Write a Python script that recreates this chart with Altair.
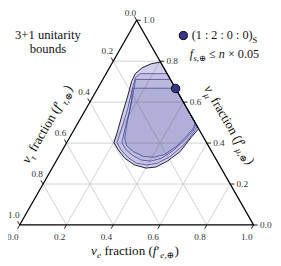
import altair as alt
import pandas as pd

# ---------------- data ----------------
TICKS = [0.0, 0.2, 0.4, 0.6, 0.8, 1.0]
GRID = [0.2, 0.4, 0.6, 0.8]

# contour regions, (nu_e fraction, nu_mu fraction), outermost first
C0_fe = [0.204, 0.168, 0.140, 0.125, 0.128, 0.147, 0.166, 0.188, 0.202, 0.236,
         0.286, 0.345, 0.401, 0.441, 0.476, 0.507, 0.519, 0.530]
C0_fmu = [0.796, 0.787, 0.768, 0.739, 0.701, 0.630, 0.549, 0.464, 0.402, 0.369,
          0.326, 0.293, 0.278, 0.283, 0.312, 0.359, 0.426, 0.470]
C1_fe = [0.261, 0.146, 0.135, 0.150, 0.178, 0.200, 0.215, 0.248, 0.296, 0.348,
         0.399, 0.439, 0.477, 0.505, 0.516, 0.520]
C1_fmu = [0.739, 0.739, 0.720, 0.663, 0.568, 0.473, 0.402, 0.369, 0.331, 0.302,
          0.293, 0.302, 0.335, 0.388, 0.440, 0.480]
C2_fe = [0.289, 0.140, 0.160, 0.191, 0.217, 0.236, 0.269, 0.312, 0.362, 0.405,
         0.444, 0.475, 0.499, 0.511, 0.510]
C2_fmu = [0.711, 0.711, 0.654, 0.559, 0.464, 0.402, 0.369, 0.340, 0.317, 0.312,
          0.326, 0.364, 0.416, 0.459, 0.490]
C3_fe = [0.332, 0.148, 0.175, 0.206, 0.236, 0.263, 0.306, 0.360, 0.409, 0.448,
         0.478, 0.497, 0.507, 0.500]
C3_fmu = [0.668, 0.668, 0.606, 0.511, 0.426, 0.388, 0.359, 0.335, 0.331, 0.345,
          0.383, 0.435, 0.473, 0.500]

MARK_fe = [1 / 3]
MARK_fmu = [2 / 3]

TITLE_TEXT = ["3+1 unitarity", "bounds"]

FONT = "Liberation Serif, DejaVu Serif, serif"
W, H = 240.5, 210.5

XE = alt.X("X:Q", scale=alt.Scale(domain=[0, 1], nice=False, zero=False), axis=None)
YE = alt.Y("Y:Q", scale=alt.Scale(domain=[0, 1], nice=False, zero=False), axis=None)
XE2 = alt.X2("X2:Q")
YE2 = alt.Y2("Y2:Q")


def cart(fe, fmu):
    return fe + fmu / 2.0, fmu


layers = []

# grid
rows = []
for v in GRID:
    for (a, b) in [((v, 0), (v, 1 - v)), ((0, v), (1 - v, v)), ((0, 1 - v), (1 - v, 0))]:
        x1, y1 = cart(*a)
        x2, y2 = cart(*b)
        rows.append(dict(X=x1, Y=y1, X2=x2, Y2=y2))
layers.append(alt.Chart(pd.DataFrame(rows)).mark_rule(color="#c4c4c4", strokeWidth=0.8)
              .encode(x=XE, y=YE, x2=XE2, y2=YE2))


def poly(fe, fmu, fop, stroke, sw):
    fe2 = list(fe) + [fe[0]]
    fm2 = list(fmu) + [fmu[0]]
    df = pd.DataFrame({"fe": fe2, "fmu": fm2, "i": list(range(len(fe2)))})
    return (alt.Chart(df)
            .transform_calculate(X="datum.fe + datum.fmu/2", Y="datum.fmu")
            .mark_line(fill="#4e4aa6", fillOpacity=fop, stroke=stroke, strokeWidth=sw,
                       strokeJoin="round")
            .encode(x=XE, y=YE, order="i:Q"))


layers.append(poly(C0_fe, C0_fmu, 0.26, "#1c1b33", 1.0))
layers.append(poly(C1_fe, C1_fmu, 0.085, "#4a4699", 0.8))
layers.append(poly(C2_fe, C2_fmu, 0.085, "#4a4699", 0.8))
layers.append(poly(C3_fe, C3_fmu, 0.09, "#4a4699", 0.8))

# triangle frame
tri = pd.DataFrame({"fe": [0, 1, 0, 0], "fmu": [0, 0, 1, 0], "i": [0, 1, 2, 3]})
layers.append(alt.Chart(tri).transform_calculate(X="datum.fe + datum.fmu/2", Y="datum.fmu")
              .mark_line(color="black", strokeWidth=1.3, strokeJoin="miter")
              .encode(x=XE, y=YE, order="i:Q"))

# ticks and labels
T = 0.018
rows, lb, ll, lr = [], [], [], []
for v in TICKS:
    # bottom (nu_e)
    x, y = cart(v, 0)
    rows.append(dict(X=x, Y=y, X2=x - T / 2, Y2=-T))
    lb.append(dict(X=x - 0.058 / 2, Y=-0.058, t=f"{v:.1f}"))
    # right (nu_mu)
    x, y = cart(1 - v, v)
    rows.append(dict(X=x, Y=y, X2=x + T, Y2=y))
    lr.append(dict(X=x + 0.0275, Y=y, t=f"{v:.1f}"))
    # left (nu_tau)
    x, y = cart(0, 1 - v)
    rows.append(dict(X=x, Y=y, X2=x - T / 2, Y2=y + T))
    off = 0.05 if v > 0 else 0.037
    ll.append(dict(X=x - off / 2 - (0.008 if v == 0 else 0), Y=y + off, t=f"{v:.1f}"))
layers.append(alt.Chart(pd.DataFrame(rows)).mark_rule(color="black", strokeWidth=0.9)
              .encode(x=XE, y=YE, x2=XE2, y2=YE2))
for d, al in [(lb, "center"), (ll, "center"), (lr, "left")]:
    layers.append(alt.Chart(pd.DataFrame(d)).mark_text(
        align=al, baseline="middle", font=FONT, fontSize=9.5, color="#333333")
        .encode(x=XE, y=YE, text="t:N"))

# marker
mk = pd.DataFrame({"fe": MARK_fe, "fmu": MARK_fmu})
layers.append(alt.Chart(mk).transform_calculate(X="datum.fe + datum.fmu/2", Y="datum.fmu")
              .mark_point(filled=True, size=75, fill="#38358a", stroke="black",
                          strokeWidth=1.0, opacity=1)
              .encode(x=XE, y=YE))

ONE = alt.Data(values=[{"a": 1}])

# widths (em) for positioning of rich-text segments
CW = {" ": 0.25, "(": 0.333, ")": 0.333, ",": 0.25, "a": 0.444, "c": 0.444, "e": 0.444,
      "f": 0.3, "i": 0.278, "n": 0.5, "o": 0.5, "r": 0.35, "t": 0.278, "S": 0.556,
      "s": 0.389, "0": 0.5, "1": 0.5, "2": 0.5, ".": 0.25, ":": 0.278, "≤": 0.549,
      "×": 0.564, "ν": 0.46, "τ": 0.44, "μ": 0.5, "⊕": 0.84, "′": 0.28}


def tw(t, fs):
    return sum(CW.get(c, 0.5) for c in t) * fs


def rich(segs, px, py, size, angle=0, anchor="center", color="#111111"):
    out = []
    ws = []
    for t, k in segs:
        fs = size * 0.7 if k.startswith("s") else size
        ws.append(tw(t, fs))
    off = -sum(ws) / 2 if anchor == "center" else 0
    for (t, k), w in zip(segs, ws):
        fs = size * 0.7 if k.startswith("s") else size
        dy = size * 0.28 if k.startswith("s") else 0
        lead = len(t) - len(t.lstrip(" "))
        txt = t.strip(" ")
        kw = dict(text=txt, align="left", baseline="alphabetic", dx=off + tw(" " * lead, fs),
                  dy=dy, fontSize=fs, font=FONT, color=color,
                  fontStyle="italic" if k in ("i", "si") else "normal")
        if angle:
            kw["angle"] = angle
        out.append(alt.Chart(ONE).mark_text(**kw)
                   .encode(x=alt.value(px), y=alt.value(py)))
        off += w
    return out


# axis titles (pixel positions relative to plot origin)
layers += rich([("ν", "i"), ("e", "si"), (" fraction (", "n"), ("f", "i"), ("′", "n"),
                ("e,⊕", "si"), (")", "n")], 118.5, 241, 13.5)
layers += rich([("ν", "i"), ("τ", "si"), (" fraction (", "n"), ("f", "i"), ("′", "n"),
                ("τ,⊕", "si"), (")", "n")], 32.0, 109.0, 13.5, angle=300)
layers += rich([("ν", "i"), ("μ", "si"), (" fraction (", "n"), ("f", "i"), ("′", "n"),
                ("μ,⊕", "si"), (")", "n")], 212.0, 109.5, 13.5, angle=60)

# legend
layers.append(alt.Chart(ONE).mark_point(filled=True, size=70, fill="#38358a", stroke="black",
                                        strokeWidth=1.0, opacity=1)
              .encode(x=alt.value(168.3), y=alt.value(15.7)))
layers += rich([("(1 : 2 : 0 : 0)", "n"), ("S", "s")], 177, 19.5, 12.5, anchor="left")
layers += rich([("f", "i"), ("s,⊕", "si"), (" ≤ ", "n"), ("n", "i"), (" × 0.05", "n")],
               175, 38.5, 12.5, anchor="left")

# top-left caption
for txt, yy in zip(TITLE_TEXT, [19.5, 33.5]):
    layers.append(alt.Chart(ONE).mark_text(text=txt, align="center", baseline="alphabetic",
                                           font=FONT, fontSize=13, color="#111111")
                  .encode(x=alt.value(29), y=alt.value(yy)))

chart = alt.layer(*layers).properties(
    width=W, height=H,
    autosize=alt.AutoSizeParams(type="none"),
    padding={"left": 12, "top": 9, "right": 20, "bottom": 36},
).configure_view(stroke=None)

chart.save("out.html", embed_options={"renderer": "svg", "actions": False})
